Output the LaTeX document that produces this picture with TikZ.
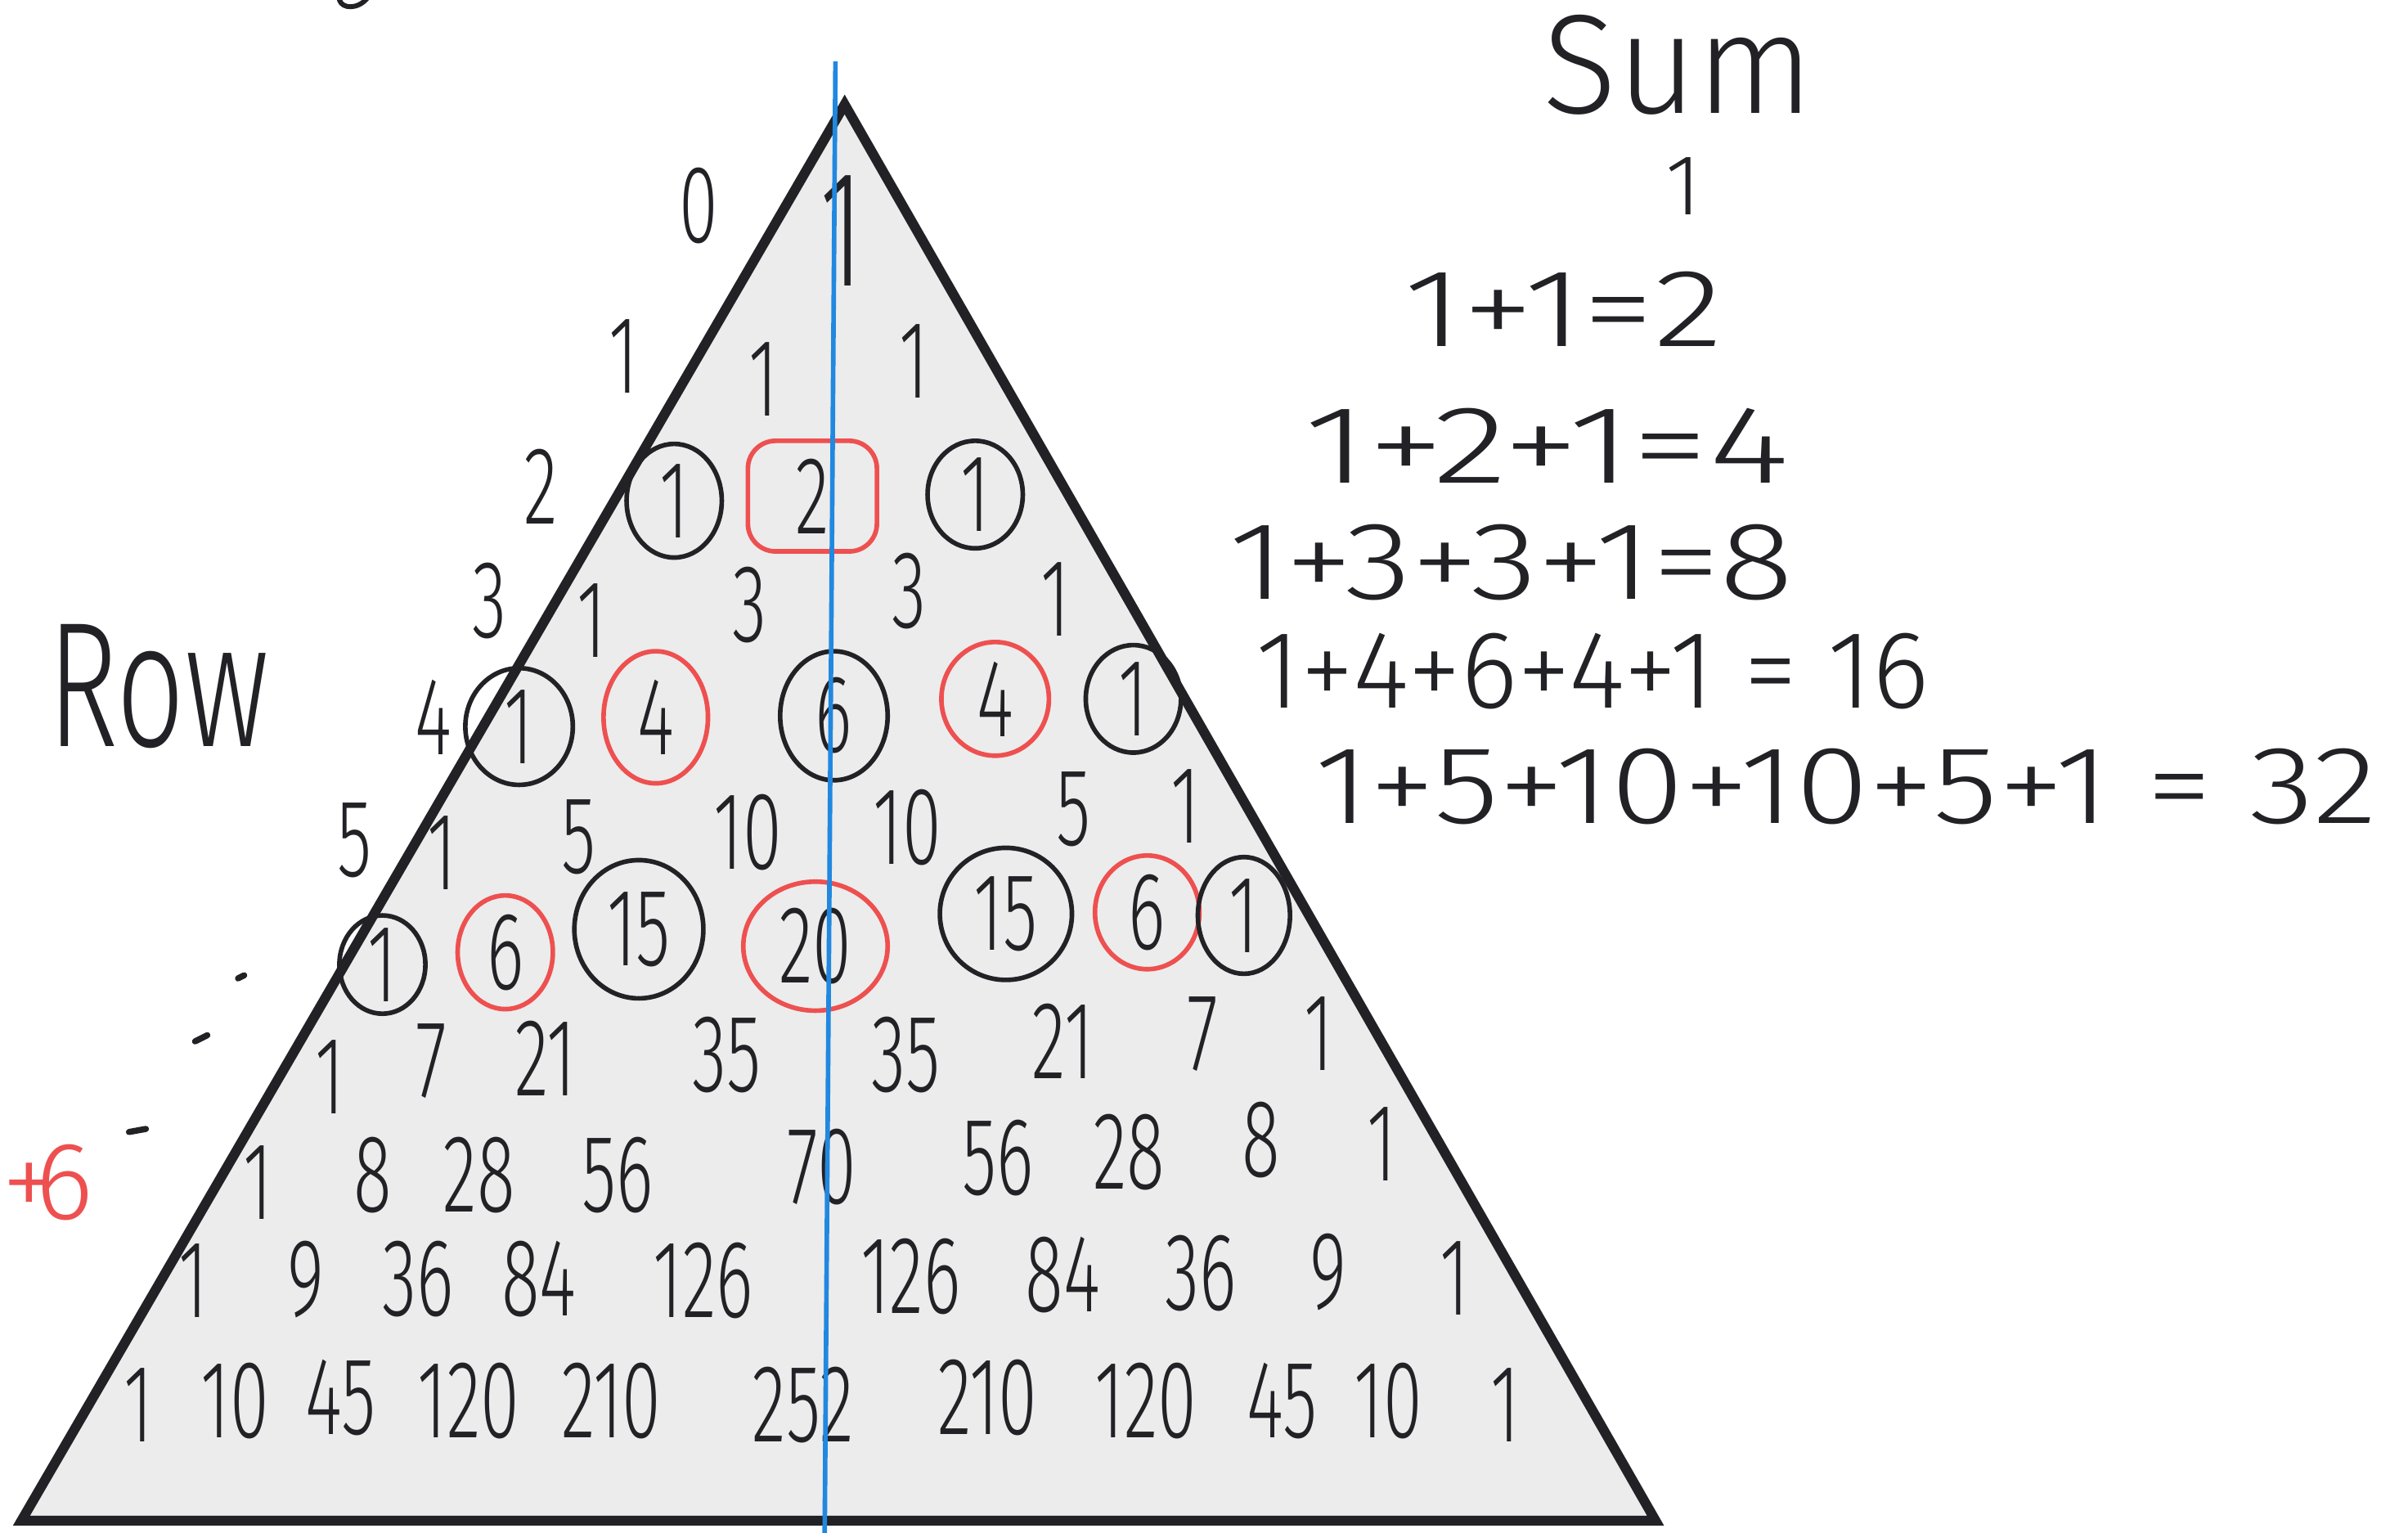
\documentclass[tikz,border=0pt]{standalone}
\usepackage{fontspec}
\usepackage{graphicx}
\IfFontExistsTF{Fira Sans Light}{%
  \newfontfamily\handn{Fira Sans Light}%
  \newfontfamily\hands[FakeStretch=0.64]{Fira Sans Light}%
}{%
  \newfontfamily\handn{Fira Sans}%
  \newfontfamily\hands[FakeStretch=0.64]{Fira Sans}%
}
\newcommand{\fitw}[2]{\resizebox{#1}{\height}{#2}}
\definecolor{ink}{HTML}{222226}
\definecolor{penred}{HTML}{EE5050}
\definecolor{penblue}{HTML}{2188E0}
\definecolor{paper}{HTML}{ECECEC}
\begin{document}
\begin{tikzpicture}[x=0.5pt,y=-0.5pt,
  num/.style={inner sep=0pt, text=ink, font=\hands\fontsize{36}{36}\selectfont},
  bignum/.style={inner sep=0pt, text=ink, font=\hands\fontsize{54}{54}\selectfont},
  sumtxt/.style={inner sep=0pt, text=ink, font=\handn\fontsize{36}{36}\selectfont},
  ring/.style={draw=ink, line width=1.5pt},
  redring/.style={draw=penred, line width=1.5pt},
  tri/.style={draw=ink, line width=3.2pt, fill=paper, line join=miter},
  blueline/.style={draw=penblue, line width=1.5pt},
  stroke/.style={draw=ink, line width=1.6pt, line cap=round}]
\useasboundingbox (0,0) rectangle (1568,998);

% triangle
\coordinate (A) at (550,68);
\coordinate (B) at (14,990);
\coordinate (C) at (1078,990);
\draw[tri] (A) -- (B) -- (C) -- cycle;

% partial glyph at top
\draw[stroke] (221,0) .. controls (223,6) and (233,6) .. (239,-1);

% row labels
\node[num] (l0) at (455,134) {0};
\node[num] (l1) at (406,232) {1};
\node[num] (l2) at (352,317) {2};
\node[num] (l3) at (319,391) {3};
\node[num] (l4) at (282,467) {4};
\node[num] (l5) at (231,547) {5};
\node[inner sep=0pt, text=ink, font=\handn\fontsize{58}{58}\selectfont] (rowlab) at (103,447) {\fitw{72pt}{Row}};

% continuation dots
\draw[stroke, line width=2pt] (155,637) -- (159,635);
\draw[stroke, line width=2pt] (127,678) -- (135,674);
\draw[stroke, line width=2pt] (84,737) -- (95,735);

% red +6
\node[inner sep=0pt, text=penred, font=\handn\fontsize{36}{36}\selectfont, anchor=west] (plussix) at (1,770) {+\kern-7pt 6};

% row 0
\node[bignum] (r0a) at (548,150) {1};
% row 1
\node[num] (r1a) at (497,247) {1};
\node[num] (r1b) at (595,235) {1};
% row 2
\node[num] (r2a) at (439,326) {1};
\node[num] (r2b) at (529,323) {2};
\node[num] (r2c) at (635,322) {1};
\draw[ring] (r2a.center) ellipse [x radius=31, y radius=37];
\draw[redring, rounded corners=9pt, shift={(r2b.center)}] (-42,-36) rectangle (42,36);
\draw[ring] (r2c.center) ellipse [x radius=31, y radius=35];
% row 3
\node[num] (r3a) at (385,404) {1};
\node[num] (r3b) at (488,394) {3};
\node[num] (r3c) at (592,385) {3};
\node[num] (r3d) at (687,390) {1};
% row 4
\node[num] (r4a) at (338,473) {1};
\node[num] (r4b) at (427,467) {4};
\node[num] (r4c) at (543,466) {6};
\node[num] (r4d) at (648,455) {4};
\node[num] (r4e) at (738,455) {1};
\draw[ring] (r4a.center) ellipse [x radius=35, y radius=38];
\draw[redring] (r4b.center) ellipse [x radius=34, y radius=43];
\draw[ring] (r4c.center) ellipse [x radius=35, y radius=42];
\draw[redring] (r4d.center) ellipse [x radius=35, y radius=37];
\draw[ring] (r4e.center) ellipse [x radius=31, y radius=35];
% row 5
\node[num] (r5a) at (288,555) {1};
\node[num] (r5b) at (377,545) {5};
\node[num] (r5c) at (487,542) {10};
\node[num] (r5d) at (591,539) {10};
\node[num] (r5e) at (699,527) {5};
\node[num] (r5f) at (772,525) {1};
% row 6
\node[num] (r6a) at (249,628) {1};
\node[num] (r6b) at (329,620) {6};
\node[num] (r6c) at (416,605) {15};
\node[num] (r6d) at (531,616) {20};
\node[num] (r6e) at (655,595) {15};
\node[num] (r6f) at (747,594) {6};
\node[num] (r6g) at (810,596) {1};
\draw[ring] (r6a.center) ellipse [x radius=28, y radius=32];
\draw[redring] (r6b.center) ellipse [x radius=31, y radius=37];
\draw[ring] (r6c.center) ellipse [x radius=42, y radius=45];
\draw[redring] (r6d.center) ellipse [x radius=47, y radius=42];
\draw[ring] (r6e.center) ellipse [x radius=43, y radius=43];
\draw[redring] (r6f.center) ellipse [x radius=34, y radius=37];
\draw[ring] (r6g.center) ellipse [x radius=30, y radius=38];
% row 7
\node[num] (r7a) at (215,701) {1};
\node[num] (r7b) at (281,691) {7};
\node[num] (r7c) at (355,689) {21};
\node[num] (r7d) at (473,687) {35};
\node[num] (r7e) at (590,687) {35};
\node[num] (r7f) at (692,678) {21};
\node[num] (r7g) at (783,673) {7};
\node[num] (r7h) at (859,673) {1};
% row 8
\node[num] (r8a) at (168,770) {1};
\node[num] (r8b) at (243,765) {8};
\node[num] (r8c) at (312,765) {28};
\node[num] (r8d) at (402,765) {56};
\node[num] (r8e) at (535,760) {70};
\node[num] (r8f) at (650,754) {56};
\node[num] (r8g) at (735,750) {28};
\node[num] (r8h) at (821,742) {8};
\node[num] (r8i) at (900,745) {1};
% row 9
\node[num] (r9a) at (126,834) {1};
\node[num] (r9b) at (199,833) {9};
\node[num] (r9c) at (272,833) {36};
\node[num] (r9d) at (351,833) {84};
\node[num] (r9e) at (458,834) {126};
\node[num] (r9f) at (593,831) {126};
\node[num] (r9g) at (692,830) {84};
\node[num] (r9h) at (782,829) {36};
\node[num] (r9i) at (865,828) {9};
\node[num] (r9j) at (947,832) {1};
% row 10
\node[num] (r10a) at (90,915) {1};
\node[num] (r10b) at (153,912) {10};
\node[num] (r10c) at (222,910) {45};
\node[num] (r10d) at (305,912) {120};
\node[num] (r10e) at (398,912) {210};
\node[num] (r10f) at (523,915) {252};
\node[num] (r10g) at (643,910) {210};
\node[num] (r10h) at (746,912) {120};
\node[num] (r10i) at (835,912) {45};
\node[num] (r10j) at (904,912) {10};
\node[num] (r10k) at (980,915) {1};

% sums
\node[inner sep=0pt, text=ink, font=\handn\fontsize{46}{46}\selectfont] (sumhead) at (1093,42) {\fitw{88pt}{Sum}};
\node[inner sep=0pt, text=ink, font=\handn\fontsize{28}{28}\selectfont] (s0) at (1096,121) {1};
\node[sumtxt] (s1) at (1018,201) {\fitw{104pt}{1+1=2}};
\node[sumtxt] (s2) at (1007,290) {\fitw{158pt}{1+2+1=4}};
\node[sumtxt] (s3) at (984,366) {\fitw{184pt}{1+3+3+1=8}};
\node[sumtxt] (s4) at (1037,437) {\fitw{219pt}{1+4+6+4+1 = 16}};
\node[sumtxt] (s5) at (1202,512) {\fitw{346pt}{1+5+10+10+5+1 = 32}};

% blue axis
\coordinate (btop) at (544,40);
\coordinate (bbot) at (537,998);
\draw[blueline] (btop) -- (bbot);
\end{tikzpicture}
\end{document}
